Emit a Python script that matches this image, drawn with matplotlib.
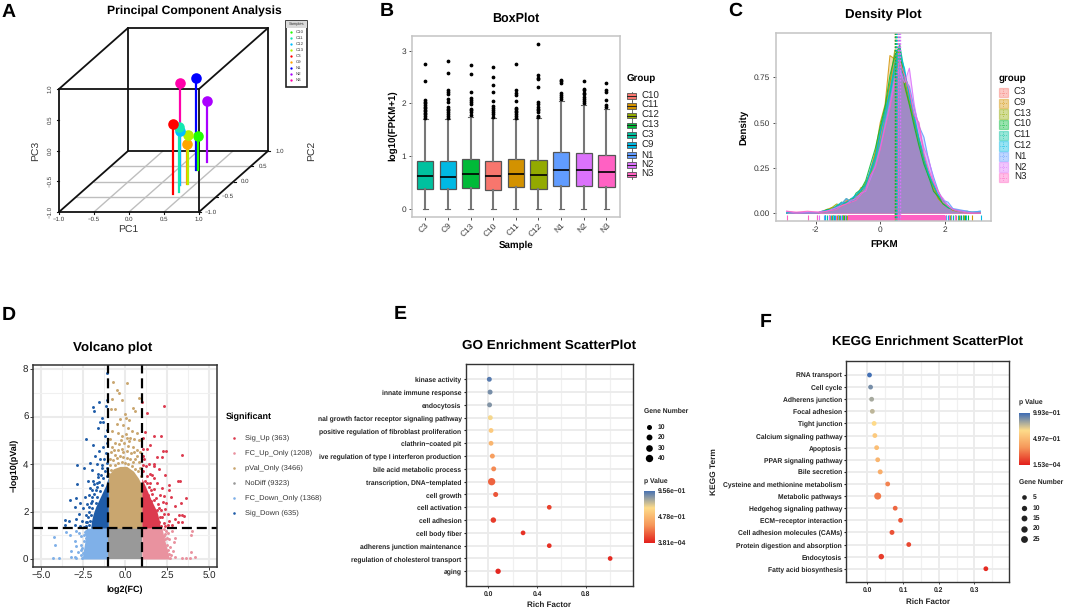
"""
Six panel RNA-seq figure: PCA, boxplot, density, volcano, GO and KEGG scatter.
"""

import matplotlib
matplotlib.use("Agg")
import matplotlib.pyplot as plt
import numpy as np
from matplotlib.colors import LinearSegmentedColormap
from matplotlib.patches import Rectangle

plt.rcParams["font.family"] = ["Liberation Sans", "DejaVu Sans"]
plt.rcParams["text.hinting"] = "no_hinting"

W, H = 1065, 610

HUE = {
    "C10": "#F8766D", "C11": "#D39200", "C12": "#93AA00", "C13": "#00BA38", "C3": "#00C19F",
    "C9": "#00B9E3", "N1": "#619CFF", "N2": "#DB72FB", "N3": "#FF61C3",
}

# --- A: PCA
PCA_SAMPLES = ["C10", "C11", "C12", "C13", "C3", "C9", "N1", "N2", "N3"]
PCA_COLORS = ["#22FF00", "#14E8B0", "#00BFFF", "#B4F000", "#FF0000", "#FFA500", "#0000FF", "#AA00FF", "#FF00AA"]
PC1 = [0.301, 0.381, 0.286, 0.389, 0.349, 0.374, 0.283, 0.294, 0.290]
PC2 = [0.377, -0.334, -0.115, -0.090, -0.420, -0.090, 0.377, 0.650, -0.115]
PC3 = [-0.442, 0.047, -0.117, -0.200, 0.143, -0.350, 0.500, -0.013, 0.654]
PCA_ORDER = ["N3", "N1", "N2", "C10", "C9", "C13", "C12", "C11", "C3"]
PCA_TICKS = [-1.0, -0.5, 0.0, 0.5, 1.0]

# --- B: boxplot
BOX_SAMPLES = ["C3", "C9", "C13", "C10", "C11", "C12", "N1", "N2", "N3"]
BOX_Q1 = [0.38, 0.37, 0.40, 0.35, 0.41, 0.38, 0.43, 0.44, 0.41]
BOX_MED = [0.63, 0.60, 0.66, 0.62, 0.65, 0.64, 0.73, 0.73, 0.70]
BOX_Q3 = [0.91, 0.91, 0.95, 0.90, 0.94, 0.93, 1.08, 1.06, 1.02]
BOX_WHI = [1.70, 1.70, 1.75, 1.73, 1.70, 1.73, 2.04, 1.97, 1.90]
BOX_FLIERS = [
    [2.74, 2.42, 2.06, 2.03, 2.00, 1.97, 1.94, 1.91, 1.88, 1.85, 1.82, 1.79, 1.76, 1.73],
    [2.81, 2.58, 2.25, 2.22, 2.18, 2.08, 2.02, 1.93, 1.90, 1.87, 1.84, 1.80, 1.76, 1.73],
    [2.72, 2.56, 2.22, 2.10, 2.06, 2.02, 1.98, 1.90, 1.87, 1.83, 1.78],
    [2.70, 2.50, 2.35, 2.22, 2.05, 1.95, 1.91, 1.87, 1.83, 1.79, 1.75],
    [2.74, 2.25, 2.20, 2.16, 2.05, 1.92, 1.89, 1.86, 1.83, 1.80, 1.76, 1.72],
    [3.12, 2.53, 2.49, 2.46, 2.31, 2.02, 1.98, 1.94, 1.90, 1.87, 1.83, 1.76, 1.74],
    [2.45, 2.42, 2.39, 2.20, 2.16, 2.12, 2.08],
    [2.43, 2.28, 2.25, 2.20, 2.17, 2.13, 2.09, 2.05, 2.00],
    [2.39, 2.25, 2.22, 2.07, 1.97, 1.93],
]

# --- C: density
DENS_GROUPS = ["C3", "C9", "C13", "C10", "C11", "C12", "N1", "N2", "N3"]
DENS_COLORS = ["#F8766D", "#D39200", "#93AA00", "#00BA38", "#00C19F", "#00B9E3", "#619CFF", "#DB72FB", "#FF61C3"]
DENS_X = [-2.9, -2.6, -2.25, -1.95, -1.8, -1.65, -1.5, -1.35, -1.2, -1.05, -0.9, -0.75, -0.6, -0.45, -0.3, -0.15,
          0.0, 0.15, 0.3, 0.45, 0.6, 0.75, 0.9, 1.05, 1.2, 1.35, 1.5, 1.65, 1.8, 1.95, 2.1, 2.25, 2.4, 2.55, 2.7, 2.85, 3.1]
DENS_C3 = [0, 0, 0, 0, .005, .015, .02, .04, .035, .07, .06, .10, .11, .16, .24, .33,
           .42, .55, .70, .88, .90, .72, .62, .52, .40, .30, .21, .15, .09, .06, .03, .015, .01, .005, .005, 0, 0]
DENS_C9 = [0, 0, 0, 0, .01, .02, .03, .03, .06, .05, .07, .09, .14, .15, .23, .34,
           .50, .60, .87, .85, .93, .70, .60, .50, .38, .28, .22, .13, .08, .05, .03, .02, .01, .01, .005, .005, 0]
DENS_C13 = [0, 0, 0, 0, .005, .01, .03, .05, .04, .06, .08, .08, .12, .17, .22, .32,
            .46, .58, .72, .90, .88, .74, .62, .50, .41, .29, .20, .15, .08, .05, .04, .015, .01, .005, 0, 0, 0]
DENS_C10 = [0, 0, 0, 0, .005, .02, .02, .04, .05, .08, .06, .11, .13, .18, .27, .36,
            .48, .59, .76, .87, .92, .71, .60, .48, .37, .27, .20, .12, .09, .05, .03, .02, .015, .01, .01, 0, 0]
DENS_C11 = [0, 0, 0, 0, .005, .01, .02, .03, .05, .06, .07, .10, .12, .16, .23, .31,
            .44, .57, .66, .82, .93, .78, .66, .52, .40, .29, .21, .15, .10, .06, .03, .02, .01, .005, .005, 0, 0]
DENS_C12 = [0, 0, 0, 0, .01, .015, .02, .04, .06, .05, .08, .10, .13, .15, .24, .31,
            .45, .54, .68, .80, .88, .80, .64, .54, .41, .32, .22, .16, .10, .07, .04, .02, .015, .01, .005, .005, .01]
DENS_N1 = [0, 0, 0, 0, .01, .01, .02, .03, .05, .08, .06, .09, .10, .14, .20, .27,
           .37, .50, .62, .76, .80, .74, .70, .58, .48, .42, .29, .20, .12, .07, .06, .025, .02, .015, .01, .005, .01]
DENS_N2 = [.01, 0, .005, .005, .005, .01, .02, .03, .04, .05, .07, .08, .11, .12, .19, .26,
           .36, .48, .60, .74, .79, .72, .80, .60, .46, .36, .30, .18, .11, .08, .04, .02, .015, .01, .005, 0, 0]
DENS_N3 = [.01, .005, .01, .005, .005, .01, .015, .02, .04, .05, .06, .07, .10, .13, .21, .25,
           .35, .47, .58, .72, .84, .76, .68, .54, .50, .33, .24, .17, .12, .06, .04, .02, .01, .005, 0, 0, 0]
DENS_SERIES = [DENS_C3, DENS_C9, DENS_C13, DENS_C10, DENS_C11, DENS_C12, DENS_N1, DENS_N2, DENS_N3]
DENS_MEANS = [0.47, 0.46, 0.50, 0.47, 0.50, 0.52, 0.58, 0.60, 0.56]
RUG_TAILS = [
    [-1.55, -1.2, -1.08, 2.05, 2.35, 2.55],
    [-1.6, -1.35, -1.15, -1.02, 2.2, 2.6, 2.83],
    [-1.5, -1.28, -1.15, 2.15, 2.45],
    [-1.7, -1.45, -1.3, -1.12, 2.3, 2.5, 2.62, 2.72],
    [-1.65, -1.42, -1.25, -1.05, 2.25, 2.4, 2.55],
    [-1.72, -1.52, -1.4, -1.18, 2.1, 2.65, 3.12],
    [-1.75, -1.47, -1.3, -1.1, 2.05, 2.2, 2.48],
    [-1.97, -1.9, -1.6, -1.22, 2.12, 2.32],
    [-2.9, -2.25, -1.95, -1.38, -1.1, 2.02, 2.12],
]
RUG_BAND = [-1.0, 2.0]

# --- D: volcano
DOWN_EDGE_Y = [1.3, 1.6, 1.9, 2.2, 2.5, 2.8, 3.1, 3.4]
DOWN_EDGE_X = [-2.05, -2.0, -1.9, -1.75, -1.55, -1.35, -1.15, -1.02]
UP_EDGE_Y = [1.3, 1.6, 2.0, 2.5, 3.0, 3.4]
UP_EDGE_X = [2.1, 2.05, 1.9, 1.55, 1.25, 1.0]
PVAL_EDGE_X = [-1.0, -0.7, -0.3, 0.1, 0.5, 0.8, 1.0]
PVAL_EDGE_Y = [3.5, 3.8, 3.9, 3.9, 3.7, 3.4, 3.1]
FC_DOWN_EDGE_Y = [0.0, 0.3, 0.7, 1.3]
FC_DOWN_EDGE_X = [-2.55, -2.5, -2.4, -2.3]
FC_UP_EDGE_Y = [0.0, 0.3, 0.7, 1.3]
FC_UP_EDGE_X = [2.65, 2.55, 2.4, 2.2]
SIG_DOWN_PTS = [
    (-1.05, 7.85), (-1.09, 6.7), (-1.57, 6.62), (-1.93, 6.39), (-1.83, 6.25), (-1.13, 6.44), (-1.39, 5.92),
    (-1.49, 5.75), (-1.3, 5.78), (-1.59, 5.5), (-1.05, 5.45), (-2.33, 5.05), (-1.2, 5.2), (-1.93, 4.8),
    (-1.3, 4.7), (-1.55, 4.55), (-1.79, 4.34), (-2.84, 3.96), (-2.45, 3.85), (-2.1, 4.05), (-1.5, 4.2),
    (-1.7, 4.0), (-1.95, 3.75), (-1.6, 3.6), (-1.4, 3.85), (-2.84, 3.16), (-2.2, 3.3), (-1.9, 3.3),
    (-1.65, 3.2), (-2.1, 3.0), (-1.75, 2.9), (-3.28, 2.48), (-2.92, 2.55), (-2.68, 2.34), (-2.4, 2.6),
    (-2.15, 2.7), (-1.95, 2.6), (-3.0, 2.2), (-2.5, 2.15), (-2.25, 2.3), (-2.05, 2.35), (-2.75, 1.9),
    (-2.35, 1.85), (-2.15, 2.0), (-3.58, 1.64), (-3.32, 1.61), (-3.58, 1.43), (-2.9, 1.7), (-2.55, 1.6),
    (-2.25, 1.55), (-3.0, 1.42), (-2.7, 1.38), (-2.35, 1.4), (-1.05, 4.9), (-1.15, 4.45), (-1.25, 4.2),
    (-1.1, 4.05), (-1.35, 3.95), (-1.2, 3.7), (-1.45, 3.55), (-1.3, 3.4), (-1.55, 3.25), (-1.4, 3.1),
    (-1.7, 3.05), (-1.5, 2.85), (-1.85, 2.75), (-1.65, 2.6), (-2.0, 2.45), (-1.75, 2.35), (-2.15, 2.2),
    (-1.95, 2.15), (-2.05, 1.85), (-2.2, 1.75), (-2.1, 1.6), (-2.3, 1.55), (-2.15, 1.42), (-2.45, 1.35),
    (-1.1, 3.5), (-1.05, 3.85), (-1.6, 3.45), (-1.85, 3.15), (-2.0, 2.9),
]
SIG_UP_PTS = [
    (1.02, 6.6), (1.3, 6.15), (2.3, 6.43), (1.2, 5.35), (1.7, 5.2), (2.15, 5.2), (1.05, 5.1), (1.5, 4.8),
    (1.1, 4.65), (1.3, 4.65), (2.25, 4.55), (2.45, 4.55), (3.4, 4.4), (1.9, 4.3), (2.2, 4.3), (1.15, 4.2),
    (1.4, 4.0), (1.75, 4.0), (1.7, 3.9), (2.05, 3.8), (1.6, 3.55), (1.7, 3.4), (2.4, 3.55), (3.15, 3.3),
    (3.25, 3.3), (2.65, 3.1), (2.2, 3.0), (2.6, 2.9), (2.75, 2.6), (3.65, 2.55), (3.35, 2.35), (2.95, 2.25),
    (2.4, 2.1), (3.2, 1.85), (3.4, 1.85), (3.5, 1.8), (2.95, 1.7), (3.15, 1.55), (3.4, 1.55), (2.8, 1.45),
    (2.6, 1.6), (1.5, 3.2), (1.3, 3.5), (1.9, 3.2), (1.7, 2.95), (2.1, 2.7), (1.85, 2.55), (2.25, 2.4),
    (2.05, 2.15), (2.55, 1.9), (2.2, 1.75), (2.4, 1.4), (1.25, 3.9), (1.55, 2.9), (1.1, 3.7), (1.2, 3.3),
    (1.4, 3.05), (1.6, 2.75), (1.35, 2.7), (1.75, 2.5), (1.55, 2.45), (1.95, 2.3), (2.15, 2.05), (1.9, 2.05),
    (2.3, 1.9), (2.1, 1.75), (2.0, 1.55), (2.3, 1.5), (2.15, 1.4), (2.55, 1.45), (1.05, 3.95), (1.3, 3.2),
    (1.05, 4.35), (1.5, 3.6), (2.45, 2.35), (2.3, 2.65),
]
PVAL_PTS = [
    (-0.7, 7.45), (0.1, 7.4), (-0.5, 7.1), (-0.35, 7.0), (-0.75, 6.75), (-0.2, 6.7), (0.85, 6.8), (-0.85, 6.3),
    (0.5, 6.35), (0.6, 6.25), (-0.6, 6.3), (-0.3, 5.9), (0.0, 6.1), (0.05, 5.95), (0.25, 5.85), (-0.5, 5.7),
    (-0.1, 5.65), (0.15, 5.5), (0.4, 5.4), (0.7, 5.3), (-0.75, 5.4), (-0.4, 5.3), (-0.2, 5.2), (0.05, 5.25),
    (0.3, 5.1), (0.55, 5.05), (0.85, 5.0), (-0.9, 5.05), (-0.6, 4.9), (-0.35, 4.85), (-0.05, 4.9), (0.2, 4.75),
    (0.45, 4.7), (0.7, 4.6), (0.9, 4.5), (-0.85, 4.5), (-0.6, 4.4), (0.6, 4.2), (0.85, 4.1), (-0.9, 4.2),
    (-0.75, 4.7), (-0.45, 4.6), (-0.2, 4.65), (0.1, 4.55), (0.35, 4.45), (-0.92, 3.95), (-0.7, 4.15), (-0.5, 4.25),
    (-0.3, 4.35), (-0.1, 4.3), (0.1, 4.25), (0.3, 4.2), (0.5, 4.1), (0.72, 4.35), (0.92, 3.85), (-0.82, 3.75),
    (-0.6, 3.95), (-0.4, 4.05), (-0.2, 4.1), (0.0, 4.05), (0.2, 4.0), (0.4, 3.9), (0.6, 3.8), (0.78, 3.7),
    (0.95, 3.5), (-0.95, 3.6), (-0.15, 4.5), (0.55, 4.5), (-0.65, 4.6), (0.25, 4.95), (-0.25, 5.0), (0.1, 5.1),
]
FC_DOWN_PTS = [
    (-4.3, 0.05), (-3.95, 0.05), (-4.25, 0.92), (-4.2, 0.6), (-3.5, 1.15), (-3.3, 1.0), (-3.25, 0.35),
    (-3.2, 0.1), (-3.0, 0.1), (-2.9, 0.05), (-3.0, 0.75), (-2.9, 0.55), (-2.8, 0.3), (-2.65, 0.95),
    (-2.6, 0.6), (-2.75, 1.1), (-2.5, 0.25), (-2.45, 0.75), (-2.4, 1.15), (-2.95, 1.2), (-2.55, 0.05), (-2.3, 1.2),
    (-2.55, 0.45), (-2.35, 0.9), (-2.45, 1.0), (-2.35, 0.55), (-2.6, 0.15), (-2.3, 1.05), (-2.65, 0.4),
]
FC_UP_PTS = [
    (3.95, 1.0), (4.0, 1.2), (3.95, 0.3), (3.65, 0.05), (3.9, 0.05), (4.2, 0.1), (3.4, 0.05), (3.0, 0.1),
    (3.0, 0.9), (2.7, 0.5), (2.6, 0.2), (2.9, 0.7), (2.55, 1.1), (2.8, 1.2), (2.4, 0.85), (2.5, 0.6),
    (2.75, 0.15), (2.45, 1.2), (2.3, 1.25), (2.65, 0.85), (2.85, 0.35), (2.55, 0.4), (2.4, 1.05), (2.5, 0.9),
    (2.3, 0.95), (2.7, 0.05),
]
VOLCANO_CLASSES = ["Sig_Up (363)", "FC_Up_Only (1208)", "pVal_Only (3466)", "NoDiff (9323)",
                   "FC_Down_Only (1368)", "Sig_Down (635)"]
VOLCANO_COLORS = ["#DC3A4E", "#E9929F", "#C9A66F", "#999999", "#7FB0E8", "#1F5CA8"]

# --- E: GO enrichment
GO_TERMS = ["kinase activity", "innate immune response", "endocytosis",
            "nal growth factor receptor signaling pathway", "positive regulation of fibroblast proliferation",
            "clathrin\u2212coated pit", "ive regulation of type I interferon production", "bile acid metabolic process",
            "transcription, DNA\u2212templated", "cell growth", "cell activation", "cell adhesion", "cell body fiber",
            "adherens junction maintenance", "regulation of cholesterol transport", "aging"]
GO_RICH = [.008, .014, .010, .016, .022, .022, .033, .044, .027, .060, .500, .041, .285, .500, 1.0, .080]
GO_GENES = [9, 10, 9, 9, 8, 8, 9, 9, 40, 10, 7, 15, 7, 7, 7, 14]
GO_P = [.956, .90, .88, .68, .58, .48, .37, .30, .19, .15, .10, .08, .05, .05, .03, .02]
GO_SIZE_LEVELS = [10, 20, 30, 40]

# --- F: KEGG enrichment
KEGG_TERMS = ["RNA transport", "Cell cycle", "Adherens junction", "Focal adhesion", "Tight junction",
              "Calcium signaling pathway", "Apoptosis", "PPAR signaling pathway", "Bile secretion",
              "Cysteine and methionine metabolism", "Metabolic pathways", "Hedgehog signaling pathway",
              "ECM\u2212receptor interaction", "Cell adhesion molecules (CAMs)", "Protein digestion and absorption",
              "Endocytosis", "Fatty acid biosynthesis"]
KEGG_RICH = [.006, .009, .012, .014, .019, .021, .026, .029, .036, .057, .029, .078, .093, .069, .116, .039, .332]
KEGG_GENES = [6, 6, 6, 6, 6, 6, 6, 6, 7, 6, 27, 6, 6, 7, 6, 12, 6]
KEGG_P = [.99, .90, .82, .78, .66, .58, .52, .48, .44, .28, .25, .20, .16, .14, .11, .08, .03]
KEGG_SIZE_LEVELS = [5, 10, 15, 20, 25]

P_CMAP = LinearSegmentedColormap.from_list("pvalue", ["#E3201C", "#F6975A", "#FEDC8A", "#3F6DB5"], N=256)


def px_axes(fig, left, top, right, bottom):
    """Axes placed by pixel edges of the final picture."""
    return fig.add_axes([left / W, 1 - bottom / H, (right - left) / W, (bottom - top) / H])


def style_frame(ax, color, lw):
    for spine in ax.spines.values():
        spine.set_color(color)
        spine.set_linewidth(lw)


def project(p1, p2, p3):
    """Oblique view used by the 3D scatter."""
    sx = 59 + (np.asarray(p1) + 1) * 70 + (np.asarray(p2) + 1) * 34.5
    sy = 212 - (np.asarray(p3) + 1) * 61.5 - (np.asarray(p2) + 1) * 30.5
    return sx, sy


def edge(page, a, b, **kw):
    xs, ys = project(*zip(a, b))
    page.plot(xs, ys, solid_capstyle="round", **kw)


def plot_pca(page):
    for v in [-0.5, 0.0, 0.5]:
        edge(page, (v, -1, -1), (v, 1, -1), color="#BEBEBE", lw=1.0)
        edge(page, (-1, v, -1), (1, v, -1), color="#BEBEBE", lw=1.0)

    box = dict(color="#111111", lw=1.3)
    for p2 in [-1, 1]:
        edge(page, (-1, p2, -1), (1, p2, -1), **box)
        edge(page, (-1, p2, 1), (1, p2, 1), **box)
        edge(page, (-1, p2, -1), (-1, p2, 1), **box)
        edge(page, (1, p2, -1), (1, p2, 1), **box)
    for p1 in [-1, 1]:
        for p3 in [-1, 1]:
            edge(page, (p1, -1, p3), (p1, 1, p3), **box)

    for name in PCA_ORDER:
        i = PCA_SAMPLES.index(name)
        sx, sy = project(PC1[i], PC2[i], PC3[i])
        _, floor = project(PC1[i], PC2[i], -1)
        page.plot([sx, sx], [sy, floor], color=PCA_COLORS[i], lw=1.6, zorder=3)
        page.scatter([sx], [sy], s=58, color=PCA_COLORS[i], linewidths=0, zorder=4)

    for v in PCA_TICKS:
        label = f"{v:.1f}".replace("-", "\u2212")
        sx, sy = project(v, -1, -1)
        page.plot([sx, sx], [sy, sy + 2], color="#111111", lw=0.8)
        page.text(sx, sy + 7, label, fontsize=4.4, ha="center", va="center", color="#333333")
        sx, sy = project(-1, -1, v)
        page.plot([sx - 2, sx], [sy, sy], color="#111111", lw=0.8)
        page.text(sx - 9, sy, label, fontsize=4.4, ha="center", va="center", rotation=90, color="#333333")
        sx, sy = project(1, v, -1)
        page.plot([sx, sx + 2], [sy, sy], color="#111111", lw=0.8)
        page.text(sx + 12, sy, label, fontsize=4.4, ha="center", va="center", color="#333333")

    page.text(128.7, 230, "PC1", fontsize=7.5, ha="center", va="center", color="#333333")
    page.text(36.7, 150.7, "PC3", fontsize=7.5, ha="center", va="center", rotation=90, color="#333333")
    page.text(312, 150.7, "PC2", fontsize=7.5, ha="center", va="center", rotation=90, color="#333333")

    # small legend box
    page.add_patch(Rectangle((285.7, 20.7), 21.6, 66, fc="white", ec="#222222", lw=1.2))
    page.add_patch(Rectangle((286.2, 21.2), 20.6, 6.5, fc="#D9D9D9", ec="none"))
    page.text(296.5, 24.6, "Samples", fontsize=2.9, ha="center", va="center", color="#333333")
    for i, name in enumerate(PCA_SAMPLES):
        y = 32.3 + i * 6.0
        page.scatter([291.3], [y], s=2.8, color=PCA_COLORS[i], linewidths=0)
        page.text(295.3, y, name, fontsize=3.2, va="center", color="#333333")


def plot_box(fig, page):
    ax = px_axes(fig, 411.7, 36, 620, 216.7)
    stats = []
    for i, name in enumerate(BOX_SAMPLES):
        stats.append(dict(label=name, q1=BOX_Q1[i], med=BOX_MED[i], q3=BOX_Q3[i],
                          whislo=0.0, whishi=BOX_WHI[i], fliers=BOX_FLIERS[i]))
    parts = ax.bxp(stats, positions=range(1, 10), widths=0.72, patch_artist=True, capwidths=0.22,
                   boxprops=dict(edgecolor="#555555", linewidth=0.9),
                   whiskerprops=dict(color="#777777", linewidth=1.5),
                   capprops=dict(color="#666666", linewidth=0.8),
                   medianprops=dict(color="black", linewidth=1.2),
                   flierprops=dict(marker="o", markersize=1.7, markerfacecolor="black", markeredgecolor="black",
                                   linestyle="none"))
    for patch, name in zip(parts["boxes"], BOX_SAMPLES):
        patch.set_facecolor(HUE[name])
    ax.set_xlim(0.4, 9.6)
    ax.set_ylim(-0.152, 3.28)
    ax.set_yticks([0, 1, 2, 3])
    ax.tick_params(axis="y", labelsize=6, length=2, width=0.6, pad=2, colors="#333333")
    ax.tick_params(axis="x", labelsize=6, length=2, width=0.6, pad=1.5, colors="#333333")
    plt.setp(ax.get_xticklabels(), rotation=45, ha="right", rotation_mode="anchor")
    style_frame(ax, "#C4C4C4", 1.1)

    page.text(516, 18.3, "BoxPlot", fontsize=9, fontweight="bold", ha="center", va="center")
    page.text(516, 245.7, "Sample", fontsize=7, fontweight="bold", ha="center", va="center")
    page.text(393, 126, "log10(FPKM+1)", fontsize=7, fontweight="bold", ha="center", va="center", rotation=90)
    page.text(627, 79, "Group", fontsize=7, fontweight="bold", va="center")
    for i, name in enumerate(HUE):
        y = 96 + i * 9.82
        page.plot([631.7, 631.7], [y - 4.5, y + 4.5], color="#555555", lw=0.6)
        page.add_patch(Rectangle((627.3, y - 2.8), 8.7, 5.6, fc=HUE[name], ec="#555555", lw=0.6, zorder=3))
        page.plot([627.3, 636], [y, y], color="#222222", lw=0.7, zorder=4)
        page.text(641.3, y, name, fontsize=7, va="center", color="#222222")


def plot_density(fig, page):
    ax = px_axes(fig, 776, 33.3, 991, 221)
    for color, values, tails in zip(DENS_COLORS, DENS_SERIES, RUG_TAILS):
        ax.fill_between(DENS_X, 0, values, color=color, alpha=0.3, linewidth=0)
        ax.plot(DENS_X, values, color=color, lw=0.8, alpha=0.85)
        ax.vlines(tails, -0.044, -0.011, color=color, lw=0.8)
    ax.hlines([0], DENS_X[0], DENS_X[-1], color="#FF61C3", lw=0.6, alpha=0.6)
    ax.fill_between(RUG_BAND, -0.044, -0.011, color="#FF61C3", linewidth=0)
    for color, mean in zip(DENS_COLORS, DENS_MEANS):
        ax.vlines([mean], -0.044, 0.993, color=color, lw=1.0, linestyles=(0, (1.2, 1.2)))
    ax.set_xlim(-3.23, 3.43)
    ax.set_ylim(-0.044, 0.993)
    ax.set_xticks([-2, 0, 2])
    ax.set_xticklabels(["-2", "0", "2"])
    ax.set_yticks([0, 0.25, 0.5, 0.75])
    ax.set_yticklabels(["0.00", "0.25", "0.50", "0.75"])
    ax.tick_params(labelsize=6, length=2, width=0.6, pad=2, colors="#333333")
    style_frame(ax, "#C4C4C4", 1.1)

    page.text(883.7, 14.7, "Density Plot", fontsize=9.5, fontweight="bold", ha="center", va="center")
    page.text(883.7, 244, "FPKM", fontsize=7, fontweight="bold", ha="center", va="center")
    page.text(744, 127, "Density", fontsize=7, fontweight="bold", ha="center", va="center", rotation=90)
    page.text(998.3, 78, "group", fontsize=7, fontweight="bold", va="center")
    for i, (name, color) in enumerate(zip(DENS_GROUPS, DENS_COLORS)):
        y = 92.7 + i * 10.63
        page.add_patch(Rectangle((998.6, y - 4.7), 9.4, 9.4, fc=color, ec=color, alpha=0.4, lw=0.9))
        page.plot([1003.3, 1003.3], [y - 3.5, y + 3.5], color=color, lw=0.5, ls=":")
        page.plot([999.5, 1007], [y, y], color=color, lw=0.5, ls=":")
        page.text(1014, y, name, fontsize=7, va="center", color="#222222")


def plot_volcano(fig, page):
    ax = px_axes(fig, 33.3, 365, 217.3, 566.7)
    up, fc_up, pval, nodiff, fc_down, down = VOLCANO_COLORS

    ax.set_xticks([-5, -2.5, 0, 2.5, 5])
    ax.set_xticklabels(["\u22125.0", "\u22122.5", "0.0", "2.5", "5.0"])
    ax.set_yticks([0, 2, 4, 6, 8])
    ax.set_xticks([-3.75, -1.25, 1.25, 3.75], minor=True)
    ax.set_yticks([1, 3, 5, 7], minor=True)
    ax.grid(True, which="major", color="#EBEBEB", lw=1.5)
    ax.grid(True, which="minor", color="#F0F0F0", lw=0.8)
    ax.set_axisbelow(True)
    ax.tick_params(which="minor", length=0)

    ax.fill_betweenx(FC_DOWN_EDGE_Y, FC_DOWN_EDGE_X, -1, color=fc_down, linewidth=0)
    ax.fill_betweenx(FC_UP_EDGE_Y, 1, FC_UP_EDGE_X, color=fc_up, linewidth=0)
    ax.fill_between([-1, 1], 0, 1.3, color=nodiff, linewidth=0)
    ax.fill_between(PVAL_EDGE_X, 1.3, PVAL_EDGE_Y, color=pval, linewidth=0)
    ax.fill_betweenx(DOWN_EDGE_Y, DOWN_EDGE_X, -1, color=down, linewidth=0)
    ax.fill_betweenx(UP_EDGE_Y, 1, UP_EDGE_X, color=up, linewidth=0)

    for pts, color in [(SIG_UP_PTS, up), (FC_UP_PTS, fc_up), (PVAL_PTS, pval), (FC_DOWN_PTS, fc_down),
                       (SIG_DOWN_PTS, down)]:
        xs, ys = zip(*pts)
        ax.scatter(xs, ys, s=4.5, color=color, linewidths=0)

    dash = dict(color="black", lw=1.6, linestyle=(0, (4.5, 2.2)))
    ax.axvline(-1, **dash)
    ax.axvline(1, **dash)
    ax.axhline(1.3, **dash)

    ax.set_xlim(-5.47, 5.5)
    ax.set_ylim(-0.324, 8.17)
    ax.tick_params(labelsize=7, length=2, width=0.6, pad=1.5, colors="#222222")
    style_frame(ax, "#333333", 1.1)

    page.text(113, 347.7, "Volcano plot", fontsize=9.6, fontweight="bold", ha="center", va="center")
    page.text(125, 589.3, "log2(FC)", fontsize=6.5, fontweight="bold", ha="center", va="center")
    page.text(14.3, 465.7, "\u2212log10(pVal)", fontsize=6.5, fontweight="bold", ha="center", va="center", rotation=90)
    page.text(226, 417, "Significant", fontsize=6.5, fontweight="bold", va="center")
    for i, (name, color) in enumerate(zip(VOLCANO_CLASSES, VOLCANO_COLORS)):
        y = 437.7 + i * 15
        page.scatter([233.5], [y], s=3.5, color=color, linewidths=0)
        page.text(245, y, name, fontsize=5.4, va="center", color="#333333")


def gradient_bar(fig, page, left, top, right, bottom, labels, text_x):
    cax = px_axes(fig, left, top, right, bottom)
    gradient = np.linspace(1, 0, 128).reshape(-1, 1)
    cax.imshow(gradient, aspect="auto", cmap=P_CMAP, vmin=0, vmax=1)
    cax.axis("off")
    mid = (top + bottom) / 2
    for y, label in zip([top, mid, bottom], labels):
        page.text(text_x, y, label, fontsize=4.9, fontweight="bold", va="center", color="#222222")


def plot_enrichment(fig, rect, terms, rich, genes, pvals, xlim, ylim, xticks, xminor, size_k):
    ax = px_axes(fig, *rect)
    ypos = np.arange(1, len(terms) + 1)
    ax.set_xticks(xticks)
    ax.set_xticks(xminor, minor=True)
    ax.set_yticks(ypos)
    ax.set_yticklabels(terms)
    ax.grid(True, which="major", color="#EBEBEB", lw=1.3)
    ax.grid(True, which="minor", color="#F0F0F0", lw=0.9)
    ax.set_axisbelow(True)
    sizes = 8 + np.array(genes) * size_k
    ax.scatter(rich, ypos, s=sizes, c=pvals, cmap=P_CMAP, vmin=0, vmax=1, linewidths=0, zorder=3)
    ax.set_xlim(*xlim)
    ax.set_ylim(*ylim)
    ax.tick_params(which="minor", length=0)
    ax.tick_params(axis="y", labelsize=4.9, length=1.5, width=0.8, pad=1.5, colors="#222222")
    ax.tick_params(axis="x", labelsize=4.9, length=1.5, width=0.6, pad=2, colors="#222222")
    plt.setp(ax.get_yticklabels(), fontweight="bold")
    plt.setp(ax.get_xticklabels(), fontweight="bold")
    style_frame(ax, "#333333", 1.0)
    return ax


def plot_go(fig, page):
    plot_enrichment(fig, (465.7, 364.3, 633.3, 586), GO_TERMS, GO_RICH, GO_GENES, GO_P,
                    (-0.186, 1.19), (17.15, -0.17), [0.0, 0.4, 0.8], [0.2, 0.6, 1.0], 0.5)
    page.text(549.3, 345.3, "GO Enrichment ScatterPlot", fontsize=9.7, fontweight="bold", ha="center", va="center")
    page.text(549.3, 605.3, "Rich Factor", fontsize=5.8, fontweight="bold", ha="center", va="center", color="#222222")
    page.text(644, 411, "Gene Number", fontsize=4.9, fontweight="bold", va="center", color="#222222")
    for i, g in enumerate(GO_SIZE_LEVELS):
        y = 426.7 + i * 10.55
        page.scatter([649.3], [y], s=8 + g * 0.5, color="black", linewidths=0)
        page.text(658, y, str(g), fontsize=4.9, fontweight="bold", va="center", color="#222222")
    page.text(644, 480.3, "p Value", fontsize=4.9, fontweight="bold", va="center", color="#222222")
    gradient_bar(fig, page, 644.3, 490.7, 655, 542.7, ["9.56e\u221201", "4.78e\u221201", "3.81e\u221204"], 658)


def plot_kegg(fig, page):
    plot_enrichment(fig, (846.3, 361, 1008.7, 582.3), KEGG_TERMS, KEGG_RICH, KEGG_GENES, KEGG_P,
                    (-0.059, 0.396), (18.12, -0.157), [0.0, 0.1, 0.2, 0.3], [0.05, 0.15, 0.25, 0.35], 0.65)
    page.text(927.7, 341.7, "KEGG Enrichment ScatterPlot", fontsize=9.6, fontweight="bold", ha="center", va="center")
    page.text(927.7, 601.7, "Rich Factor", fontsize=5.8, fontweight="bold", ha="center", va="center", color="#222222")
    page.text(714, 471.7, "KEGG Term", fontsize=6, fontweight="bold", ha="center", va="center", rotation=90,
              color="#222222")
    page.text(1019.3, 402, "p Value", fontsize=4.9, fontweight="bold", va="center", color="#222222")
    gradient_bar(fig, page, 1019.3, 412.7, 1030, 464.7, ["9.93e\u221201", "4.97e\u221201", "1.53e\u221204"], 1033)
    page.text(1019.3, 481.7, "Gene Number", fontsize=4.9, fontweight="bold", va="center", color="#222222")
    for i, g in enumerate(KEGG_SIZE_LEVELS):
        y = 497.3 + i * 10.4
        page.scatter([1024.3], [y], s=8 + g * 0.65, color="#222222", linewidths=0)
        page.text(1032.7, y, str(g), fontsize=4.9, fontweight="bold", va="center", color="#222222")


def main():
    fig = plt.figure(figsize=(W / 100, H / 100), dpi=100)
    page = fig.add_axes([0, 0, 1, 1], zorder=10)
    page.set_xlim(0, W)
    page.set_ylim(H, 0)
    page.axis("off")

    plot_pca(page)
    plot_box(fig, page)
    plot_density(fig, page)
    plot_volcano(fig, page)
    plot_go(fig, page)
    plot_kegg(fig, page)

    page.text(194.7, 11, "Principal Component Analysis", fontsize=8.7, fontweight="bold", ha="center", va="center")
    for letter, x, y in [("A", 2, 12), ("B", 380, 11), ("C", 728, 11), ("D", 2, 315), ("E", 394, 314), ("F", 760, 322)]:
        page.text(x, y, letter, fontsize=14, fontweight="bold", va="center")

    fig.savefig("out.png", dpi=100)
    plt.close(fig)


if __name__ == "__main__":
    main()
